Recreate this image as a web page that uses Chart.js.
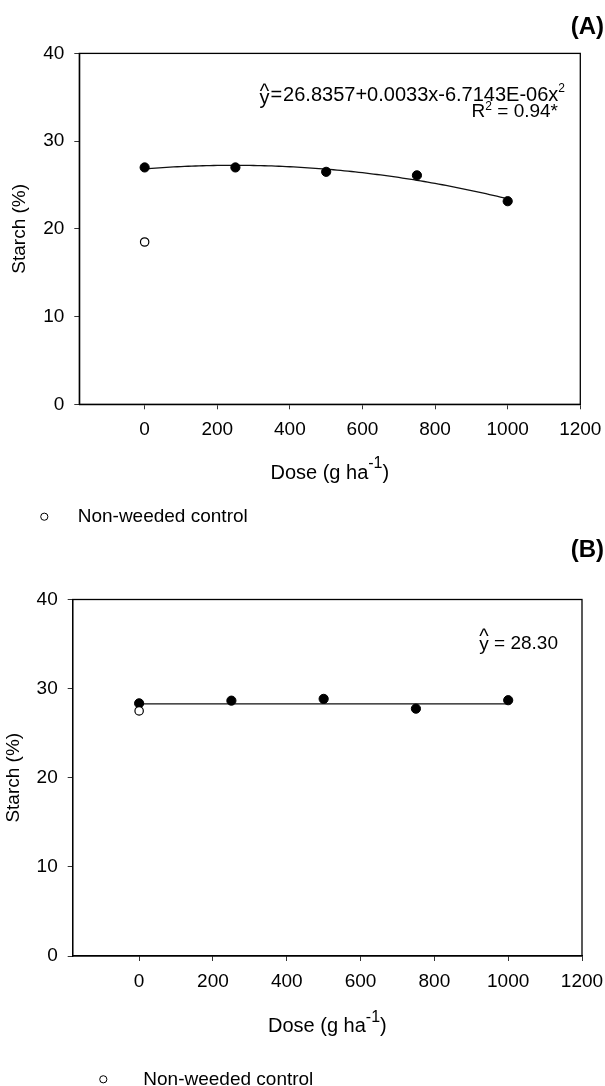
<!DOCTYPE html>
<html>
<head>
<meta charset="utf-8">
<script src="https://cdn.jsdelivr.net/npm/chart.js@4/dist/chart.umd.min.js"></script>
<style>
  html, body { margin: 0; padding: 0; background: #fff; }
  body { width: 605px; height: 1086px; position: relative; overflow: hidden; }
  canvas { position: absolute; left: 0; display: block; }
  #chartA { top: 0; }
  #chartB { top: 530px; }
</style>
</head>
<body>
<canvas id="chartA" width="605" height="530"></canvas>
<canvas id="chartB" width="605" height="556"></canvas>
<script>
// Herbicide dose (g ha-1) and starch content (%)
const doses = [0, 250, 500, 750, 1000];
const controlDose = [0];

// Panel A
const starchA = [27.0, 27.0, 26.5, 26.1, 23.15];
const controlA = [18.5];
const fitCoefA = [26.8357, 0.0033, -6.7143e-6];   // quadratic fit b0, b1, b2
const r2A = 0.94;

// Panel B
const starchB = [28.35, 28.65, 28.85, 27.75, 28.7];
const controlB = [27.5];
const meanB = 28.30;                               // constant fit

// Axes
const doseTicks = [0, 200, 400, 600, 800, 1000, 1200];
const starchTicks = [0, 10, 20, 30, 40];
const doseRange = [-180, 1200];
const starchRange = [0, 40];

const FONT = "'Liberation Sans', Arial, Helvetica, sans-serif";
const INK = '#000';

function pts(xs, ys) { return xs.map((x, i) => ({ x: x, y: ys[i] })); }

// fitted quadratic, evaluated along the dose range of the treatments
function quadCurve(coef, from, to, step) {
  const out = [];
  for (let x = from; x <= to + 1e-9; x += step) {
    out.push({ x: x, y: coef[0] + coef[1] * x + coef[2] * x * x });
  }
  return out;
}

function sci(v) {
  const [m, e] = Math.abs(v).toExponential(4).split('e');
  const n = parseInt(e, 10);
  const sign = n < 0 ? '-' : '+';
  return m + 'E' + sign + String(Math.abs(n)).padStart(2, '0');
}

function quadLabel(c) {
  const t1 = (c[1] < 0 ? '-' : '+') + Math.abs(c[1]).toFixed(4) + 'x';
  const t2 = (c[2] < 0 ? '-' : '+') + sci(c[2]) + 'x';
  return c[0].toFixed(4) + t1 + t2;
}

// draw a row of text pieces, right-aligned at rx, vertically centred on my
function drawPieces(ctx, pieces, rx, my) {
  const widths = pieces.map(p => {
    ctx.font = (p.bold ? 'bold ' : '') + p.size + 'px ' + FONT;
    return ctx.measureText(p.t).width + (p.gap || 0);
  });
  let x = rx - widths.reduce((a, b) => a + b, 0);
  pieces.forEach((p, i) => {
    ctx.font = (p.bold ? 'bold ' : '') + p.size + 'px ' + FONT;
    ctx.fillStyle = INK;
    ctx.textAlign = 'left';
    ctx.textBaseline = 'middle';
    ctx.fillText(p.t, x, my + (p.dy || 0));
    if (p.hat !== undefined) {
      const w = ctx.measureText(p.t).width;
      ctx.font = '20px ' + FONT;
      ctx.textAlign = 'center';
      ctx.fillText('^', x + w / 2, my + p.hat);
    }
    x += widths[i];
  });
}

function panelPlugin(cfg) {
  return {
    id: 'panel' + cfg.tag,
    beforeDatasetsDraw(chart) {
      const { ctx, chartArea: a } = chart;
      ctx.save();
      ctx.strokeStyle = INK;
      ctx.lineWidth = 1.3;
      ctx.strokeRect(a.left, a.top, a.right - a.left, a.bottom - a.top);
      ctx.restore();
    },
    afterDraw(chart) {
      const { ctx, chartArea: a } = chart;
      ctx.save();
      // panel letter
      ctx.font = 'bold 24px ' + FONT;
      ctx.fillStyle = INK;
      ctx.textAlign = 'right';
      ctx.textBaseline = 'middle';
      ctx.fillText('(' + cfg.tag + ')', 604, cfg.tagY);

      // y-axis title
      ctx.save();
      ctx.translate(cfg.yTitleX, (a.top + a.bottom) / 2);
      ctx.rotate(-Math.PI / 2);
      ctx.font = '19px ' + FONT;
      ctx.textAlign = 'center';
      ctx.textBaseline = 'middle';
      ctx.fillText('Starch (%)', 0, 0);
      ctx.restore();

      // x-axis title with superscript unit
      const cx = (a.left + a.right) / 2;
      ctx.font = '20px ' + FONT;
      const w1 = ctx.measureText('Dose (g ha').width;
      const w3 = ctx.measureText(')').width;
      ctx.font = '16px ' + FONT;
      const w2 = ctx.measureText('-1').width;
      let x0 = cx - (w1 + w2 + w3) / 2;
      ctx.textAlign = 'left';
      ctx.textBaseline = 'middle';
      ctx.font = '20px ' + FONT;
      ctx.fillText('Dose (g ha', x0, cfg.xTitleY);
      ctx.font = '16px ' + FONT;
      ctx.fillText('-1', x0 + w1, cfg.xTitleY - 9);
      ctx.font = '20px ' + FONT;
      ctx.fillText(')', x0 + w1 + w2, cfg.xTitleY);

      // legend for the non-weeded control
      ctx.beginPath();
      ctx.arc(cfg.legX, cfg.legY, 3.6, 0, Math.PI * 2);
      ctx.fillStyle = '#fff';
      ctx.fill();
      ctx.strokeStyle = INK;
      ctx.lineWidth = 1;
      ctx.stroke();
      ctx.fillStyle = INK;
      ctx.font = '19px ' + FONT;
      ctx.textAlign = 'left';
      ctx.textBaseline = 'middle';
      ctx.fillText('Non-weeded control', cfg.legTextX, cfg.legY + 0.5);

      // regression equation(s)
      cfg.equations.forEach(eq => drawPieces(ctx, eq.pieces, eq.right, eq.y));
      ctx.restore();
    }
  };
}

function makeChart(id, cfg) {
  const tickFont = { family: FONT, size: 19 };
  const plain = v => String(v);
  return new Chart(document.getElementById(id), {
    type: 'scatter',
    data: {
      datasets: [
        {
          label: 'Non-weeded control',
          data: pts(controlDose, cfg.control),
          order: 0,
          pointRadius: 4.2,
          pointBackgroundColor: '#fff',
          pointBorderColor: INK,
          pointBorderWidth: 1.2,
          showLine: false
        },
        {
          label: 'Herbicide dose',
          data: pts(doses, cfg.values),
          order: 1,
          pointRadius: 4.6,
          pointBackgroundColor: INK,
          pointBorderColor: INK,
          pointBorderWidth: 1,
          showLine: false
        },
        {
          label: 'Fit',
          data: cfg.fit,
          order: 2,
          showLine: true,
          pointRadius: 0,
          borderColor: '#111',
          borderWidth: 1.3,
          tension: 0
        }
      ]
    },
    options: {
      responsive: false,
      animation: false,
      events: [],
      layout: { padding: { top: cfg.padTop, right: cfg.padRight, left: 0, bottom: 0 } },
      plugins: { legend: { display: false }, tooltip: { enabled: false } },
      scales: {
        x: {
          type: 'linear',
          min: doseRange[0],
          max: doseRange[1],
          afterBuildTicks(s) { s.ticks = doseTicks.map(v => ({ value: v })); },
          afterFit(s) { s.height = cfg.xAxisH; s.paddingLeft = 0; s.paddingRight = 0; },
          ticks: { font: tickFont, color: INK, padding: 9, maxRotation: 0, autoSkip: false, callback: plain },
          grid: { display: true, drawOnChartArea: false, drawTicks: true, tickLength: 5, tickColor: '#333', lineWidth: 1 },
          border: { display: true, color: INK, width: 1.3 }
        },
        y: {
          type: 'linear',
          min: starchRange[0],
          max: starchRange[1],
          afterBuildTicks(s) { s.ticks = starchTicks.map(v => ({ value: v })); },
          afterFit(s) { s.width = cfg.yAxisW; s.paddingTop = 0; s.paddingBottom = 0; },
          ticks: { font: tickFont, color: INK, padding: 10, callback: plain },
          grid: { display: true, drawOnChartArea: false, drawTicks: true, tickLength: 5, tickColor: '#333', lineWidth: 1 },
          border: { display: true, color: INK, width: 1.3 }
        }
      }
    },
    plugins: [panelPlugin(cfg)]
  });
}

makeChart('chartA', {
  tag: 'A', tagY: 27,
  values: starchA, control: controlA,
  fit: quadCurve(fitCoefA, doses[0], doses[doses.length - 1], 10),
  padTop: 53.4, padRight: 24.7, yAxisW: 79.3, xAxisH: 530 - 404.3,
  yTitleX: 20, xTitleY: 473,
  legX: 44.3, legY: 516.7, legTextX: 77.7,
  equations: [
    { right: 565, y: 95, pieces: [
      { t: 'y', size: 20, hat: -2.5, dy: 3.5, gap: 1 },
      { t: '=', size: 20, gap: 1 },
      { t: quadLabel(fitCoefA), size: 20 },
      { t: '2', size: 12, dy: -6 }
    ] },
    { right: 558, y: 112, pieces: [
      { t: 'R', size: 19 },
      { t: '2', size: 12, dy: -5 },
      { t: ' = ' + r2A.toFixed(2) + '*', size: 19 }
    ] }
  ]
});

makeChart('chartB', {
  tag: 'B', tagY: 20,
  values: starchB, control: controlB,
  fit: pts([doses[0], doses[doses.length - 1]], [meanB, meanB]),
  padTop: 69.5, padRight: 23, yAxisW: 72.7, xAxisH: 556 - 426,
  yTitleX: 13.5, xTitleY: 496.7,
  legX: 103.3, legY: 549.3, legTextX: 143.3,
  equations: [
    { right: 558, y: 114, pieces: [
      { t: 'y', size: 19, hat: -7, dy: 0.5 },
      { t: ' = ' + meanB.toFixed(2), size: 19 }
    ] }
  ]
});
</script>
</body>
</html>
